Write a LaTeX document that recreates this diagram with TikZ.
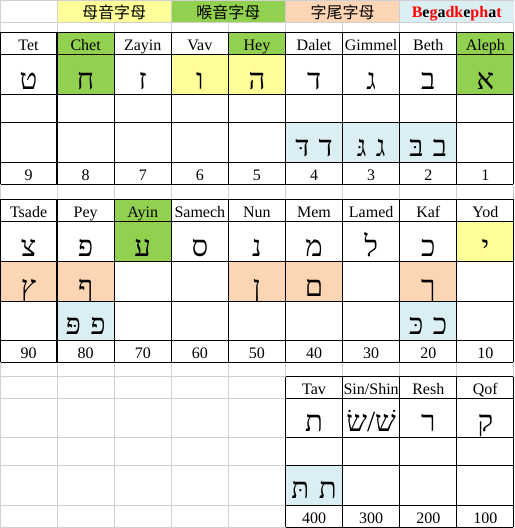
\documentclass[tikz,border=0pt]{standalone}
\usepackage{fontspec}
\setmainfont{Liberation Serif}
\newfontfamily\hebfont[Script=Hebrew]{Liberation Serif}
\newfontfamily\cjkfont{Noto Sans CJK TC}
\TeXXeTstate=1
\definecolor{cyel}{HTML}{FFFF99}
\definecolor{cgrn}{HTML}{92D050}
\definecolor{cpch}{HTML}{FCD5B4}
\definecolor{cblu}{HTML}{DAEEF3}
\definecolor{cgry}{HTML}{D0D0D0}
\definecolor{cred}{HTML}{FF0000}
\newcommand\hgap{\hspace{0.32em}}
\begin{document}
\begin{tikzpicture}[x=0.75pt,y=-0.75pt,
  gridline/.style={draw=cgry,line width=0.75pt},
  blk/.style={draw=black,line width=1pt},
  nm/.style={anchor=base,inner sep=0pt,font=\fontsize{12}{14}\selectfont},
  hb/.style={anchor=base,inner sep=0pt,font=\hebfont\fontsize{22}{26}\selectfont},
  hd/.style={anchor=base,inner sep=0pt,font=\cjkfont\fontsize{12}{14}\selectfont}]
\useasboundingbox (0,0) rectangle (514,528);
\fill[white] (0,0) rectangle (514,528);
% spreadsheet grid
\foreach \y in {0.5,22.7,32.3,54.7,94.7,122.7,162.7,184.3,199.3,221.7,261.7,301.7,340.7,362.3,376.5,398.5,437.3,465.2,505.5,527.3}
  \draw[gridline] (0,\y) -- (514,\y);
\foreach \x in {0.5,57.1,114.2,171.3,228.4,285.5,342.6,399.7,456.8,513.5}
  \draw[gridline] (\x,0) -- (\x,528);
% header fills
\fill[cyel] (57.6,1) rectangle (170.9,22.2);
\fill[cgrn] (171.7,1) rectangle (285.1,22.2);
\fill[cpch] (285.9,1) rectangle (399.3,22.2);
\fill[cblu] (400.1,1) rectangle (514,22.2);
\node[hd] (h1) at (114.2,19) {母音字母};
\node[hd] (h2) at (228.4,19) {喉音字母};
\node[hd] (h3) at (342.6,19) {字尾字母};
\node[nm,font=\bfseries\fontsize{12}{14}\selectfont] (h4) at (456.7,17.5)
  {\textcolor{cred}{B}e\textcolor{cred}{g}a\textcolor{cred}{dk}e\textcolor{cred}{ph}a\textcolor{cred}{t}};
% cell fills
\newcommand\cellfill[4]{\fill[#4] ({#1*57.1},#2) rectangle ({(#1+1)*57.1},#3);}
% block 1
\cellfill{1}{32.3}{54.7}{cgrn}
\cellfill{4}{32.3}{54.7}{cgrn}
\cellfill{8}{32.3}{54.7}{cgrn}
\cellfill{1}{54.7}{94.7}{cgrn}
\cellfill{3}{54.7}{94.7}{cyel}
\cellfill{4}{54.7}{94.7}{cyel}
\cellfill{8}{54.7}{94.7}{cgrn}
\cellfill{5}{122.7}{162.7}{cblu}
\cellfill{6}{122.7}{162.7}{cblu}
\cellfill{7}{122.7}{162.7}{cblu}
% block 2
\cellfill{2}{199.3}{221.7}{cgrn}
\cellfill{2}{221.7}{261.7}{cgrn}
\cellfill{8}{221.7}{261.7}{cyel}
\cellfill{0}{261.7}{301.7}{cpch}
\cellfill{1}{261.7}{301.7}{cpch}
\cellfill{4}{261.7}{301.7}{cpch}
\cellfill{5}{261.7}{301.7}{cpch}
\cellfill{7}{261.7}{301.7}{cpch}
\cellfill{1}{301.7}{340.7}{cblu}
\cellfill{7}{301.7}{340.7}{cblu}
% block 3
\cellfill{5}{465.2}{505.5}{cblu}
% black borders
\foreach \y in {32.3,54.7,94.7,122.7,162.7,184.3}
  \draw[blk] (0.5,\y) -- (513.4,\y);
\foreach \x in {0.5,57.1,114.2,171.3,228.4,285.5,342.6,399.7,456.8,513.4}
  \draw[blk] (\x,32.3) -- (\x,184.3);
\foreach \y in {199.3,221.7,261.7,301.7,340.7,362.3}
  \draw[blk] (0.5,\y) -- (513.4,\y);
\foreach \x in {0.5,57.1,114.2,171.3,228.4,285.5,342.6,399.7,456.8,513.4}
  \draw[blk] (\x,199.3) -- (\x,362.3);
\foreach \y in {376.5,398.5,437.3,465.2,505.5,527.3}
  \draw[blk] (285.5,\y) -- (513.4,\y);
\foreach \x in {285.5,342.6,399.7,456.8,513.4}
  \draw[blk] (\x,376.5) -- (\x,527.3);
% block 1 texts
\foreach \t [count=\i from 0] in {Tet,Chet,Zayin,Vav,Hey,Dalet,Gimmel,Beth,Aleph}
  \node[nm] (a-n\i) at ({(\i+0.5)*57.1},50.7) {\t};
\foreach \t [count=\i from 0] in {ט,ח,ז,ו,ה,ד,ג,ב,א}
  \node[hb] (a-l\i) at ({(\i+0.5)*57.1},89.3) {\beginR\t\endR};
\node[hb] (a-d5) at ({5.5*57.1},156.2) {\beginR ד\hgap דּ\endR};
\node[hb] (a-d6) at ({6.5*57.1},156.2) {\beginR ג\hgap גּ\endR};
\node[hb] (a-d7) at ({7.5*57.1},156.2) {\beginR ב\hgap בּ\endR};
\foreach \t [count=\i from 0] in {9,8,7,6,5,4,3,2,1}
  \node[nm] (a-v\i) at ({(\i+0.5)*57.1},180) {\t};
% block 2 texts
\foreach \t [count=\i from 0] in {Tsade,Pey,Ayin,Samech,Nun,Mem,Lamed,Kaf,Yod}
  \node[nm] (b-n\i) at ({(\i+0.5)*57.1},217.7) {\t};
\foreach \t [count=\i from 0] in {צ,פ,ע,ס,נ,מ,ל,כ,י}
  \node[hb] (b-l\i) at ({(\i+0.5)*57.1},256.3) {\beginR\t\endR};
\node[hb] (b-f0) at ({0.5*57.1},296.2) {\beginR ץ\endR};
\node[hb] (b-f1) at ({1.5*57.1},296.2) {\beginR ף\endR};
\node[hb] (b-f4) at ({4.5*57.1},296.2) {\beginR ן\endR};
\node[hb] (b-f5) at ({5.5*57.1},296.2) {\beginR ם\endR};
\node[hb] (b-f7) at ({7.5*57.1},296.2) {\beginR ך\endR};
\node[hb] (b-d1) at ({1.5*57.1},334) {\beginR פ\hgap פּ\endR};
\node[hb] (b-d7) at ({7.5*57.1},334) {\beginR כ\hgap כּ\endR};
\foreach \t [count=\i from 0] in {90,80,70,60,50,40,30,20,10}
  \node[nm] (b-v\i) at ({(\i+0.5)*57.1},358) {\t};
% block 3 texts
\node[nm] (c-n5) at ({5.5*57.1},394.5) {Tav};
\node[nm] (c-n6) at ({6.5*57.1},394.5) {Sin/Shin};
\node[nm] (c-n7) at ({7.5*57.1},394.5) {Resh};
\node[nm] (c-n8) at ({8.5*57.1},394.5) {Qof};
\node[hb] (c-l5) at ({5.5*57.1},431.9) {\beginR ת\endR};
\node[hb] (c-l6) at ({6.5*57.1},431.9) {\beginR שׁ/שׂ\endR};
\node[hb] (c-l7) at ({7.5*57.1},431.9) {\beginR ר\endR};
\node[hb] (c-l8) at ({8.5*57.1},431.9) {\beginR ק\endR};
\node[hb] (c-d5) at ({5.5*57.1},498.7) {\beginR ת\hgap תּ\endR};
\node[nm] (c-v5) at ({5.5*57.1},523) {400};
\node[nm] (c-v6) at ({6.5*57.1},523) {300};
\node[nm] (c-v7) at ({7.5*57.1},523) {200};
\node[nm] (c-v8) at ({8.5*57.1},523) {100};
\end{tikzpicture}
\end{document}
